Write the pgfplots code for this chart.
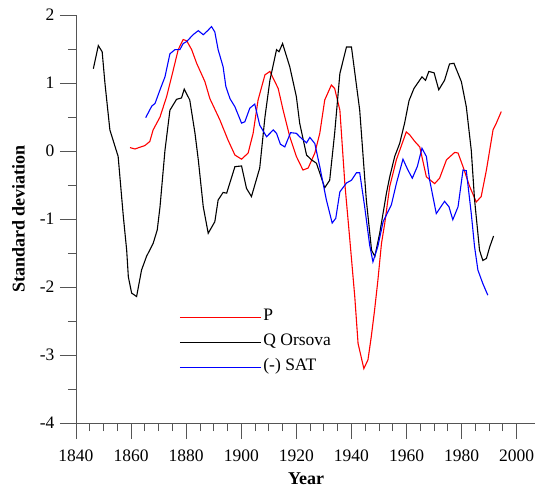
\documentclass[border=0pt]{standalone}
\usepackage{pgfplots}
\pgfplotsset{compat=1.18}
\usepackage{fontspec}
\setmainfont{Liberation Serif}

\definecolor{axisgray}{RGB}{85,85,85}

\begin{document}
\begin{tikzpicture}
\begin{axis}[
    at={(0,0)}, anchor=south west,
    scale only axis,
    width=460bp, height=408bp,
    xmin=1840, xmax=2007,
    ymin=-4, ymax=2,
    axis lines*=left,
    axis line style={axisgray, line width=0.9bp},
    every tick/.style={axisgray, line width=0.9bp},
    tick align=outside,
    major tick length=16bp,
    minor tick length=8bp,
    xtick={1840,1860,...,2000},
    ytick={-4,-3,...,2},
    minor x tick num=3,
    minor y tick num=1,
    /pgf/number format/1000 sep={},
    /pgf/number format/assume math mode=true,
    tick label style={font=\fontsize{17.5bp}{20bp}\selectfont},
    xticklabel style={yshift=-7bp},
    yticklabel style={xshift=-2bp},
    xlabel={\textbf{Year}},
    ylabel={\textbf{Standard deviation}},
    label style={font=\fontsize{18bp}{21bp}\selectfont},
    xlabel style={at={(axis description cs:0.5,0)}, anchor=north, inner sep=0pt, yshift=-50bp},
    ylabel style={at={([xshift=-51bp]axis description cs:0,0.5)}, anchor=south, inner sep=0pt},
    legend style={at={(axis cs:1877.4,-2.82)}, anchor=west, draw=none, fill=none,
        font=\fontsize{17.5bp}{20bp}\selectfont, inner sep=0pt,
        nodes={inner sep=2bp, text height=13bp, text depth=8bp}},
    legend cell align=left,
    legend image code/.code={\draw[#1, line width=1.2bp] (0bp,0bp) -- (81bp,0bp);},
    every axis plot/.append style={line width=1.1bp},
]

\addplot[red] coordinates {
(1859.6,0.05)(1861.4,0.03)(1865.0,0.08)(1866.8,0.14)(1868.0,0.31)(1870.5,0.50)
(1872.9,0.80)(1875.3,1.19)(1877.1,1.49)(1878.9,1.64)(1880.2,1.62)(1882.0,1.49)
(1883.8,1.29)(1886.8,1.02)(1888.6,0.77)(1892.2,0.46)(1895.2,0.16)(1897.7,-0.06)
(1900.1,-0.12)(1902.5,-0.03)(1904.3,0.26)(1906.1,0.75)(1908.6,1.12)(1910.4,1.17)
(1913.4,0.92)(1915.2,0.60)(1917.6,0.21)(1920.0,-0.08)(1922.4,-0.28)(1924.3,-0.25)
(1926.7,-0.03)(1928.5,0.26)(1930.3,0.75)(1932.7,0.97)(1933.9,0.92)(1935.8,0.60)
(1937.6,-0.48)(1939.4,-1.30)(1941.2,-2.14)(1942.4,-2.83)(1944.5,-3.20)(1946.0,-3.07)
(1947.2,-2.73)(1948.4,-2.34)(1949.6,-1.90)(1950.9,-1.36)(1952.1,-1.06)(1953.9,-0.52)
(1956.3,-0.13)(1959.9,0.28)(1961.1,0.24)(1963.0,0.14)(1964.8,0.06)(1967.2,-0.38)
(1970.2,-0.48)(1972.0,-0.40)(1974.5,-0.13)(1977.5,-0.02)(1978.7,-0.03)(1980.5,-0.23)
(1982.9,-0.52)(1985.3,-0.75)(1987.1,-0.67)(1989.0,-0.28)(1991.4,0.31)(1992.6,0.41)
(1994.4,0.58)
};
\addlegendentry{P}

\addplot[black] coordinates {
(1846.3,1.21)(1848.1,1.55)(1849.5,1.46)(1850.5,1.00)(1852.3,0.31)(1855.3,-0.08)
(1857.2,-0.97)(1858.4,-1.46)(1859.0,-1.85)(1860.2,-2.09)(1862.0,-2.14)(1863.8,-1.75)
(1865.6,-1.55)(1868.0,-1.36)(1869.5,-1.16)(1870.5,-0.82)(1872.3,0.01)(1874.1,0.60)
(1876.5,0.76)(1878.3,0.78)(1879.3,0.91)(1881.3,0.75)(1883.2,0.26)(1884.4,-0.13)
(1886.2,-0.82)(1888.0,-1.21)(1890.4,-1.04)(1891.6,-0.72)(1893.4,-0.61)(1894.7,-0.62)
(1897.7,-0.23)(1900.1,-0.22)(1901.9,-0.55)(1903.7,-0.67)(1906.7,-0.25)(1908.6,0.50)
(1910.4,1.04)(1912.8,1.49)(1913.7,1.46)(1915.0,1.58)(1917.6,1.24)(1920.0,0.80)
(1921.2,0.41)(1923.7,-0.06)(1925.5,-0.13)(1927.3,-0.18)(1930.3,-0.54)(1932.1,-0.43)
(1933.9,0.26)(1935.8,1.14)(1938.2,1.53)(1940.0,1.53)(1943.0,0.60)(1945.4,-0.72)
(1947.3,-1.46)(1948.5,-1.55)(1950.3,-1.20)(1952.7,-0.62)(1953.9,-0.38)(1955.7,-0.08)
(1957.5,0.11)(1959.3,0.41)(1960.9,0.74)(1962.7,0.92)(1965.6,1.09)(1966.9,1.04)
(1968.1,1.17)(1970.0,1.15)(1971.7,0.90)(1973.8,1.04)(1975.6,1.28)(1977.2,1.29)
(1979.9,1.02)(1981.7,0.65)(1983.5,0.01)(1984.7,-0.72)(1985.9,-1.21)(1986.5,-1.46)
(1987.7,-1.61)(1989.0,-1.58)(1990.2,-1.41)(1991.6,-1.25)
};
\addlegendentry{Q Orsova}

\addplot[blue] coordinates {
(1865.3,0.49)(1867.5,0.66)(1868.7,0.70)(1870.5,0.90)(1872.3,1.09)(1874.1,1.43)
(1875.9,1.49)(1877.7,1.49)(1878.9,1.58)(1880.2,1.61)(1882.5,1.71)(1884.4,1.77)
(1886.2,1.71)(1887.8,1.77)(1889.2,1.83)(1890.4,1.75)(1891.6,1.49)(1893.4,1.24)
(1894.4,0.95)(1895.9,0.77)(1897.7,0.65)(1900.1,0.41)(1901.3,0.43)(1903.1,0.63)
(1904.9,0.69)(1906.7,0.38)(1909.2,0.21)(1911.6,0.31)(1912.8,0.26)(1914.2,0.10)
(1915.8,0.06)(1917.9,0.27)(1920.0,0.26)(1921.2,0.21)(1923.7,0.12)(1924.9,0.20)
(1926.7,0.11)(1928.5,-0.23)(1930.9,-0.72)(1933.0,-1.06)(1934.3,-0.99)(1935.8,-0.60)
(1938.2,-0.47)(1940.0,-0.43)(1941.8,-0.32)(1943.0,-0.32)(1944.8,-0.82)(1946.6,-1.38)
(1947.8,-1.63)(1949.6,-1.40)(1951.5,-1.04)(1954.5,-0.79)(1956.3,-0.48)(1958.7,-0.12)
(1960.5,-0.28)(1962.1,-0.40)(1963.9,-0.23)(1965.6,0.04)(1967.2,-0.08)(1968.4,-0.43)
(1970.8,-0.92)(1973.8,-0.74)(1975.4,-0.82)(1976.8,-1.01)(1978.7,-0.82)(1980.5,-0.28)
(1981.7,-0.29)(1983.5,-0.92)(1984.7,-1.41)(1985.9,-1.75)(1987.7,-1.95)(1989.5,-2.12)
};
\addlegendentry{(-) SAT}

\end{axis}
\pgfresetboundingbox
\useasboundingbox (-76bp,-65bp) rectangle (459bp,423bp);
\end{tikzpicture}
\end{document}
